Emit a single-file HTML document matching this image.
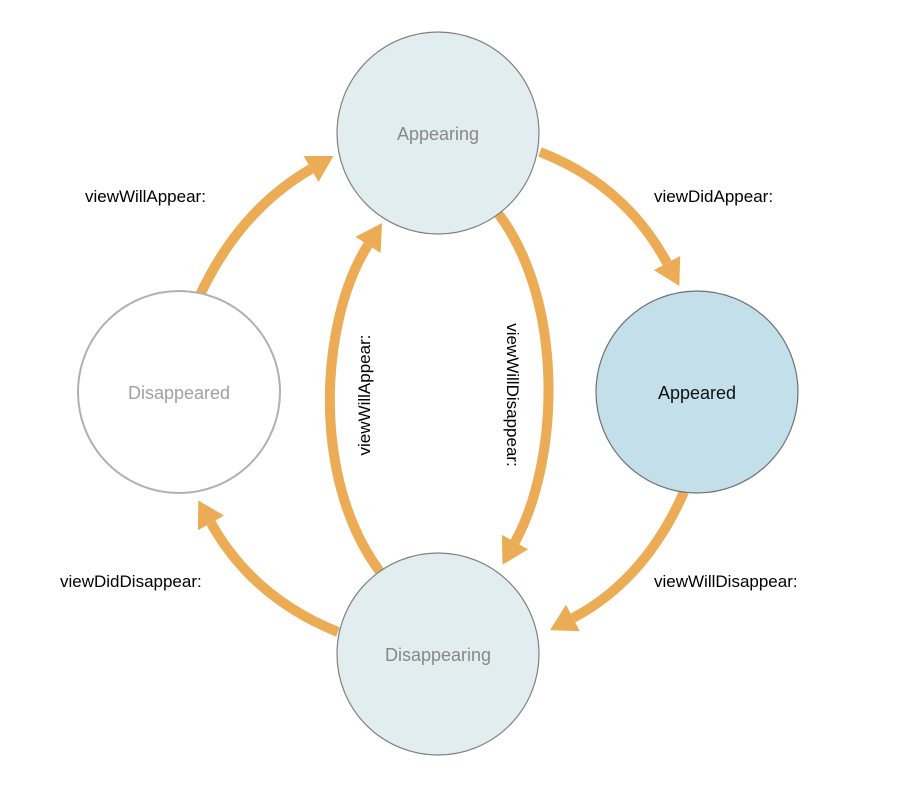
<!DOCTYPE html>
<html><head><meta charset="utf-8"><style>
html,body{margin:0;padding:0;background:#fff;}
svg text{font-family:"Liberation Sans",sans-serif;}
</style></head><body>
<svg width="900" height="786" viewBox="0 0 900 786" xmlns="http://www.w3.org/2000/svg">
<defs>
<marker id="ah" markerUnits="userSpaceOnUse" markerWidth="40" markerHeight="40" refX="0" refY="15" orient="auto" viewBox="0 0 40 30">
<path d="M0,0 L26,15 L0,30 z" fill="#ECAC55"/>
</marker>
</defs>
<g fill="none" stroke="#ECAC55" stroke-width="10" marker-end="url(#ah)">
<path d="M200,295 Q240,210 311,169"/>
<path d="M540,152 Q625,185 667,263"/>
<path d="M684,492 Q645,580 573,618"/>
<path d="M338,632 Q253,598 211,523"/>
<path d="M381,573 C310,480 320,320 368,245"/>
<path d="M497,212 C565,300 560,460 515,542"/>
</g>
<circle cx="438" cy="133" r="101" fill="#E1EDEF" stroke="#808080" stroke-width="1.2"/>
<circle cx="697" cy="392" r="101" fill="#C2DFEA" stroke="#707070" stroke-width="1.2"/>
<circle cx="179" cy="392" r="101" fill="#fff" stroke="#B0B0B0" stroke-width="2"/>
<circle cx="438" cy="654" r="101" fill="#E1EDEF" stroke="#808080" stroke-width="1.2"/>
<g font-size="18" text-anchor="middle">
<text x="438" y="140" fill="#888">Appearing</text>
<text x="697" y="399" fill="#111">Appeared</text>
<text x="179" y="399" fill="#A0A0A0">Disappeared</text>
<text x="438" y="661" fill="#888">Disappearing</text>
</g>
<g font-size="17" fill="#000">
<text x="85" y="202">viewWillAppear:</text>
<text x="654" y="202">viewDidAppear:</text>
<text x="60" y="587">viewDidDisappear:</text>
<text x="654" y="587">viewWillDisappear:</text>
<text transform="translate(370,395) rotate(-90)" text-anchor="middle">viewWillAppear:</text>
<text transform="translate(507,395) rotate(90)" text-anchor="middle">viewWillDisappear:</text>
</g>
</svg>
</body></html>
